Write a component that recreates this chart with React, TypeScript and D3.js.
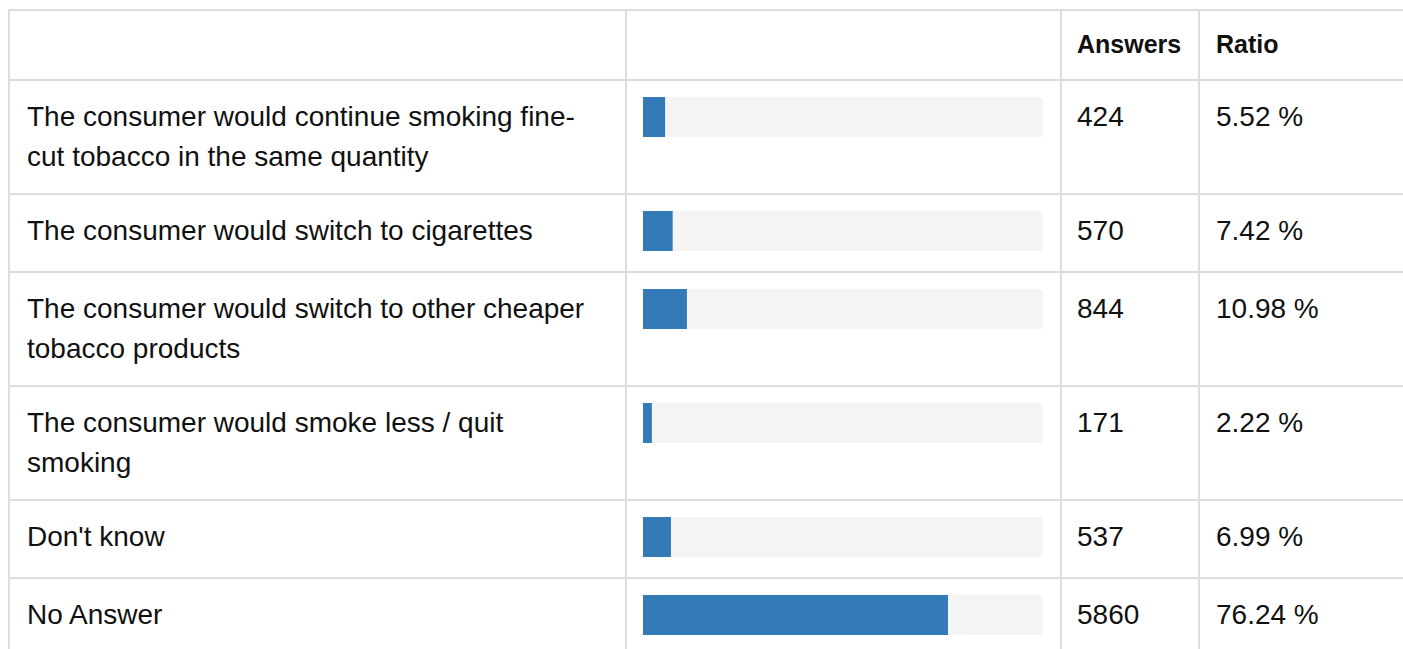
import React from "react";
import * as d3 from "d3";

const categories: string[][] = [
  ["The consumer would continue smoking fine-", "cut tobacco in the same quantity"],
  ["The consumer would switch to cigarettes"],
  ["The consumer would switch to other cheaper", "tobacco products"],
  ["The consumer would smoke less / quit", "smoking"],
  ["Don't know"],
  ["No Answer"],
];
const answers: number[] = [424, 570, 844, 171, 537, 5860];
const ratios: number[] = [5.52, 7.42, 10.98, 2.22, 6.99, 76.24];
const headers: string[] = ["", "", "Answers", "Ratio"];

const W = 1403;
const H = 649;
const BORDER = "#dddddd";
const TEXT = "#111111";
const BAR = "#337ab7";
const TRACK = "#f4f4f4";
const FONT = "Liberation Sans, Arial, Helvetica, sans-serif";

export default function App() {
  const colLines = [9, 626, 1061, 1199];
  const topLine = 10;
  const headerH = 70;
  const lineH = 40;
  const rowH = (n: number) => (n === 2 ? 114.3 : 77.5);

  const rowTops: number[] = [];
  let y = topLine + headerH;
  categories.forEach((c) => {
    rowTops.push(Math.round(y));
    y += rowH(c.length);
  });
  const hLines = [topLine, ...rowTops, Math.round(y)];

  const x = d3.scaleLinear().domain([0, 100]).range([colLines[1] + 17, colLines[2] - 18]);
  const barH = 40;

  const textX = [colLines[0] + 18, colLines[1] + 17, colLines[2] + 16, colLines[3] + 17];
  const baseOff = 28.5;

  return (
    <svg
      width={W}
      height={H}
      style={{ position: "absolute", left: 0, top: 0, display: "block", background: "#fff", fontFamily: FONT }}
    >
      <rect x={0} y={0} width={W} height={H} fill="#fff" />
      {headers.map((h, i) =>
        h ? (
          <text key={"h" + i} x={textX[i]} y={53} fontSize={25} fontWeight="bold" fill={TEXT} style={{ fontFamily: FONT }}>
            {h}
          </text>
        ) : null
      )}
      {categories.map((lines, i) => {
        const top = rowTops[i] + 1 + 16;
        return (
          <g key={"r" + i}>
            {lines.map((ln, j) => (
              <text key={j} x={textX[0]} y={top + baseOff + j * lineH} fontSize={28} fill={TEXT} style={{ fontFamily: FONT }}>
                {ln}
              </text>
            ))}
            <rect x={x(0)} y={top} width={x(100) - x(0)} height={barH} rx={4} ry={4} fill={TRACK} />
            <rect x={x(0)} y={top} width={x(ratios[i]) - x(0)} height={barH} fill={BAR} />
            <text x={textX[2]} y={top + baseOff} fontSize={28} fill={TEXT} style={{ fontFamily: FONT }}>
              {answers[i]}
            </text>
            <text x={textX[3]} y={top + baseOff} fontSize={28} fill={TEXT} style={{ fontFamily: FONT }}>
              {ratios[i].toFixed(2) + " %"}
            </text>
          </g>
        );
      })}
      {hLines.map((ly, i) => (
        <line key={"hl" + i} x1={colLines[0] - 1} x2={W} y1={ly} y2={ly} stroke={BORDER} strokeWidth={2} />
      ))}
      {colLines.map((lx, i) => (
        <line key={"vl" + i} x1={lx} x2={lx} y1={topLine - 1} y2={H + 20} stroke={BORDER} strokeWidth={2} />
      ))}
    </svg>
  );
}
